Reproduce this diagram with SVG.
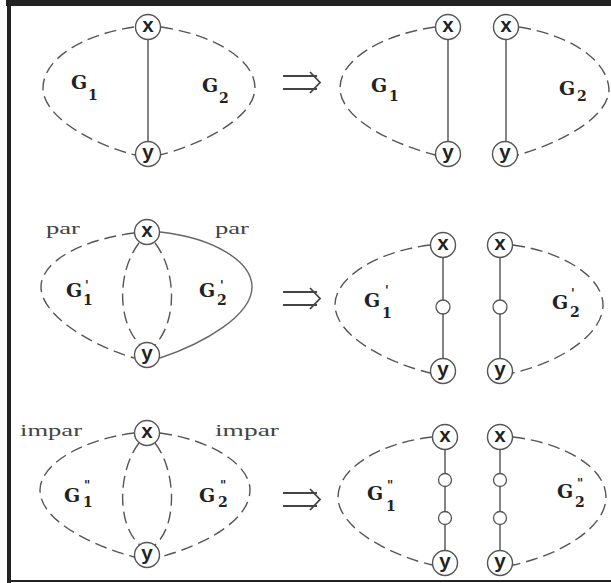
<svg xmlns="http://www.w3.org/2000/svg" width="611" height="583" viewBox="0 0 611 583">
<style>
.bd{fill:none;stroke:#555;stroke-width:1.4;stroke-dasharray:12 6}
.sl{fill:none;stroke:#666;stroke-width:1.6}
.nd{fill:#fff;stroke:#555;stroke-width:1.4}
.sm{fill:#fff;stroke:#555;stroke-width:1.3}
.nt{font-family:"Liberation Mono",monospace;font-weight:bold;font-size:20px;fill:#222;text-anchor:middle}
.g{font-family:"DejaVu Serif","Liberation Serif",serif;font-weight:bold;font-size:19px;fill:#222}
.s{font-family:"DejaVu Serif","Liberation Serif",serif;font-weight:bold;font-size:14px;fill:#222}
.p{font-family:"DejaVu Serif","Liberation Serif",serif;font-weight:bold;font-size:12px;fill:#222}
.w{font-family:"Liberation Serif",serif;font-size:17px;fill:#444}
.ar{fill:none;stroke:#444;stroke-width:1.8}
</style>
<rect x="0" y="0" width="611" height="583" fill="#fff"/>
<g id="frame">
<rect x="6" y="0" width="605" height="6" fill="#222"/>
<rect x="7" y="0" width="4" height="583" fill="#222"/>
<rect x="7" y="580" width="604" height="2" fill="#222"/>
</g>
<g id="connectors">
<path class="bd" d="M134,27 C80,35 43,60 43,88 C43,118 95,145 135,155"/>
<path class="bd" d="M161,27 C215,35 255,60 255,88 C255,118 200,145 160,155"/>
<line class="sl" x1="148" y1="40" x2="148" y2="141"/>
<path class="bd" d="M435,27 C380,35 340,60 340,88 C340,118 390,143 435,155"/>
<path class="bd" d="M519,27 C570,35 608,60 609,90 C608,118 560,143 518,155"/>
<line class="sl" x1="448" y1="40" x2="448" y2="141"/>
<line class="sl" x1="506" y1="40" x2="506" y2="141"/>
<path class="bd" d="M134,233 C80,240 41,262 41,287 C41,315 90,345 134,358"/>
<path class="sl" style="stroke-width:1.4" d="M160,232 C215,238 252,262 252,287 C252,315 205,343 160,358"/>
<path class="bd" d="M139,243 C118,270 116,320 140,345"/>
<path class="bd" d="M155,243 C176,270 178,320 155,345"/>
<path class="bd" d="M430,245 C375,252 335,278 335,305 C335,335 385,362 430,373"/>
<path class="bd" d="M513,245 C565,252 603,278 603,305 C603,335 560,362 513,373"/>
<line class="sl" x1="443" y1="258" x2="443" y2="358"/>
<line class="sl" x1="500" y1="258" x2="500" y2="358"/>
<path class="bd" d="M134,433 C80,440 40,465 40,490 C40,520 90,545 134,557"/>
<path class="bd" d="M160,433 C212,440 250,465 250,490 C250,520 205,545 160,557"/>
<path class="bd" d="M139,443 C118,470 116,525 140,545"/>
<path class="bd" d="M155,443 C176,470 178,525 155,545"/>
<path class="bd" d="M432,437 C380,443 338,468 338,497 C338,528 390,555 432,565"/>
<path class="bd" d="M513,437 C565,443 606,468 606,497 C606,528 560,555 513,565"/>
<line class="sl" x1="445" y1="450" x2="445" y2="550"/>
<line class="sl" x1="500" y1="450" x2="500" y2="550"/>
<path class="ar" d="M283,76 H317 M283,89 H317 M310,72 L320,82.5 L310,93"/>
<path class="ar" d="M283,292 H317 M283,305 H317 M310,288 L320,298.5 L310,309"/>
<path class="ar" d="M283,493 H317 M283,506 H317 M310,489 L320,499.5 L310,510"/>
</g>
<g id="p1x"><circle class="nd" cx="148" cy="27" r="12.5"/><text class="nt" x="148" y="32">x</text></g>
<g id="p1y"><circle class="nd" cx="148" cy="154" r="12.5"/><text class="nt" x="148" y="159">y</text></g>
<g id="p1g1"><text class="g" x="71" y="89">G</text><text class="s" x="88" y="100">1</text></g>
<g id="p1g2"><text class="g" x="202" y="92">G</text><text class="s" x="219" y="103">2</text></g>
<g id="p2x1"><circle class="nd" cx="448" cy="27" r="12.5"/><text class="nt" x="448" y="32">x</text></g>
<g id="p2y1"><circle class="nd" cx="448" cy="154" r="12.5"/><text class="nt" x="448" y="159">y</text></g>
<g id="p2x2"><circle class="nd" cx="506" cy="27" r="12.5"/><text class="nt" x="506" y="32">x</text></g>
<g id="p2y2"><circle class="nd" cx="505" cy="154" r="12.5"/><text class="nt" x="505" y="159">y</text></g>
<g id="p2g1"><text class="g" x="371" y="92">G</text><text class="s" x="389" y="101">1</text></g>
<g id="p2g2"><text class="g" x="559" y="95">G</text><text class="s" x="577" y="101">2</text></g>
<g id="p3x"><circle class="nd" cx="147" cy="232" r="12.5"/><text class="nt" x="147" y="237">x</text></g>
<g id="p3y"><circle class="nd" cx="147" cy="355" r="12.5"/><text class="nt" x="147" y="360">y</text></g>
<g id="p3par1"><text class="w" x="46" y="234" textLength="34" lengthAdjust="spacingAndGlyphs">par</text></g>
<g id="p3par2"><text class="w" x="215" y="234" textLength="34" lengthAdjust="spacingAndGlyphs">par</text></g>
<g id="p3g1"><text class="g" x="66" y="297">G</text><text class="s" x="83" y="305">1</text><text class="p" x="85" y="290">'</text></g>
<g id="p3g2"><text class="g" x="199" y="297">G</text><text class="s" x="217" y="305">2</text><text class="p" x="220" y="290">'</text></g>
<g id="p4x1"><circle class="nd" cx="443" cy="245" r="12.5"/><text class="nt" x="443" y="250">x</text></g>
<g id="p4y1"><circle class="nd" cx="443" cy="371" r="12.5"/><text class="nt" x="443" y="376">y</text></g>
<g id="p4m1"><circle class="sm" cx="443" cy="307" r="7"/></g>
<g id="p4x2"><circle class="nd" cx="500" cy="245" r="12.5"/><text class="nt" x="500" y="250">x</text></g>
<g id="p4y2"><circle class="nd" cx="500" cy="371" r="12.5"/><text class="nt" x="500" y="376">y</text></g>
<g id="p4m2"><circle class="sm" cx="500" cy="307" r="7"/></g>
<g id="p4g1"><text class="g" x="364" y="307">G</text><text class="s" x="382" y="318">1</text><text class="p" x="385" y="295">'</text></g>
<g id="p4g2"><text class="g" x="552" y="309">G</text><text class="s" x="570" y="317">2</text><text class="p" x="571" y="298">'</text></g>
<g id="p5x"><circle class="nd" cx="147" cy="433" r="12.5"/><text class="nt" x="147" y="438">x</text></g>
<g id="p5y"><circle class="nd" cx="147" cy="555" r="12.5"/><text class="nt" x="147" y="560">y</text></g>
<g id="p5i1"><text class="w" x="20" y="436" textLength="62" lengthAdjust="spacingAndGlyphs">impar</text></g>
<g id="p5i2"><text class="w" x="215" y="436" textLength="64" lengthAdjust="spacingAndGlyphs">impar</text></g>
<g id="p5g1"><text class="g" x="64" y="502">G</text><text class="s" x="83" y="507">1</text><text class="p" x="84" y="490">"</text></g>
<g id="p5g2"><text class="g" x="199" y="502">G</text><text class="s" x="218" y="507">2</text><text class="p" x="220" y="490">"</text></g>
<g id="p6x1"><circle class="nd" cx="445" cy="437" r="12.5"/><text class="nt" x="445" y="442">x</text></g>
<g id="p6y1"><circle class="nd" cx="445" cy="563" r="12.5"/><text class="nt" x="445" y="568">y</text></g>
<g id="p6m1"><circle class="sm" cx="445" cy="480" r="6.5"/></g>
<g id="p6m2"><circle class="sm" cx="445" cy="518" r="6.5"/></g>
<g id="p6x2"><circle class="nd" cx="500" cy="437" r="12.5"/><text class="nt" x="500" y="442">x</text></g>
<g id="p6y2"><circle class="nd" cx="500" cy="563" r="12.5"/><text class="nt" x="500" y="568">y</text></g>
<g id="p6m3"><circle class="sm" cx="500" cy="480" r="6.5"/></g>
<g id="p6m4"><circle class="sm" cx="500" cy="518" r="6.5"/></g>
<g id="p6g1"><text class="g" x="367" y="500">G</text><text class="s" x="386" y="511">1</text><text class="p" x="387" y="490">"</text></g>
<g id="p6g2"><text class="g" x="557" y="498">G</text><text class="s" x="575" y="507">2</text><text class="p" x="577" y="488">"</text></g>
</svg>
